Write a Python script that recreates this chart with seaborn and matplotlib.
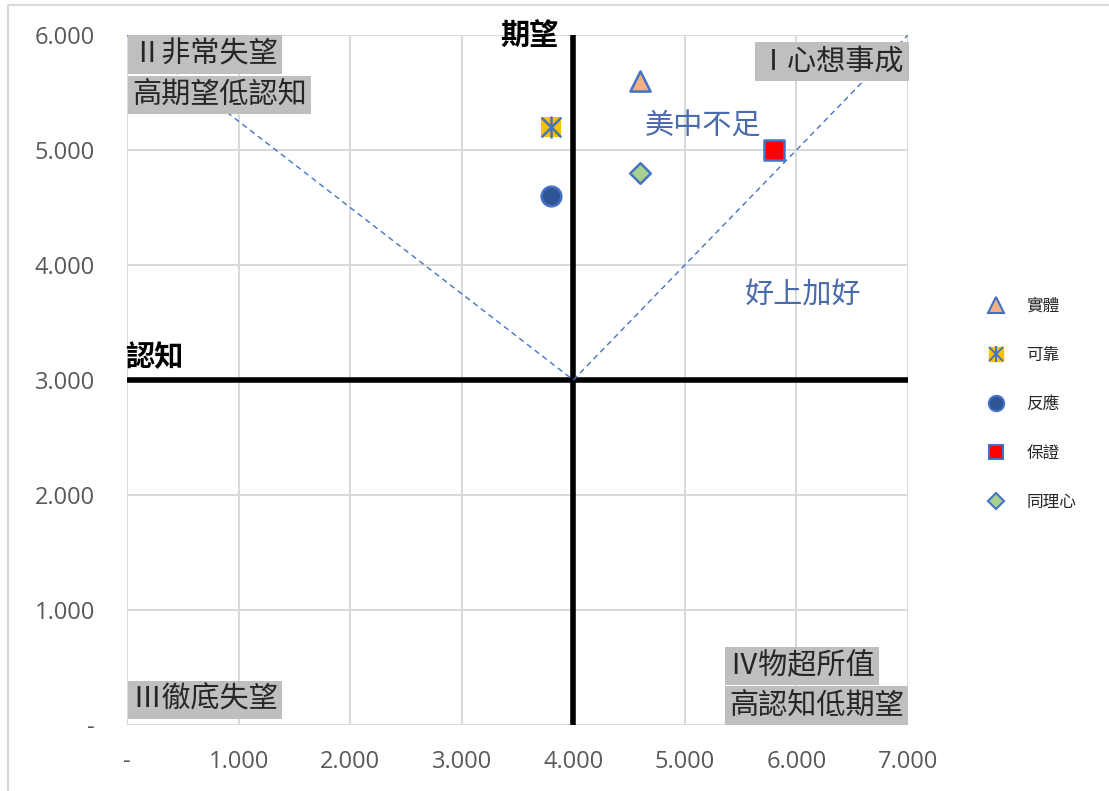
import matplotlib
matplotlib.use("Agg")
import matplotlib.pyplot as plt
from matplotlib.lines import Line2D
from matplotlib.patches import Rectangle
import seaborn as sns
import pandas as pd

# --- data -------------------------------------------------------------
dimensions = ["實體", "可靠", "反應", "保證", "同理心"]
perception = [4.6, 3.8, 3.8, 5.8, 4.6]      # 認知 (x)
expectation = [5.6, 5.2, 4.6, 5.0, 4.8]     # 期望 (y)

x_ticks = [0, 1, 2, 3, 4, 5, 6, 7]
y_ticks = [0, 1, 2, 3, 4, 5, 6]
x_mid, y_mid = 4, 3

# diagonal guide lines from the centre to the upper corners
guide_left_x, guide_left_y = [0, 4], [6, 3]
guide_right_x, guide_right_y = [4, 7], [3, 6]

# --- styling ----------------------------------------------------------
EDGE = "#4472c4"
marker_style = {
    "實體": dict(marker="^", face="#f4b183", size=210),
    "可靠": dict(marker="s", face="#ffc000", size=200),
    "反應": dict(marker="o", face="#2f5597", size=200),
    "保證": dict(marker="s", face="#ff0000", size=200),
    "同理心": dict(marker="D", face="#a9d18e", size=110),
}

sns.set_theme(style="white")
plt.rcParams["font.family"] = ["Noto Sans CJK TC", "DejaVu Sans"]

fig = plt.figure(figsize=(11.09, 7.91), dpi=100)
ax = fig.add_axes([127 / 1109, 1 - 725 / 791, (908 - 127) / 1109, (725 - 35) / 791])

df = pd.DataFrame({"維度": dimensions, "認知": perception, "期望": expectation})

# gridlines
ax.set_xlim(0, 7)
ax.set_ylim(0, 6)
ax.set_xticks(x_ticks)
ax.set_yticks(y_ticks)
ax.grid(True, color="#d9d9d9", lw=1.4)
ax.set_axisbelow(True)
for s in ax.spines.values():
    s.set_visible(False)

# quadrant axes
ax.axvline(x_mid, color="black", lw=4, zorder=2)
ax.axhline(y_mid, color="black", lw=4, zorder=2)

# dashed guides
sns.lineplot(x=guide_left_x, y=guide_left_y, ax=ax, color=EDGE, lw=1,
             linestyle=(0, (4, 3)), zorder=3)
sns.lineplot(x=guide_right_x, y=guide_right_y, ax=ax, color=EDGE, lw=1,
             linestyle=(0, (4, 3)), zorder=3)

# points
handles = []
for name in dimensions:
    st = marker_style[name]
    sub = df[df["維度"] == name]
    if name == "可靠":
        sns.scatterplot(data=sub, x="認知", y="期望", marker="s", s=st["size"],
                        color=st["face"], edgecolor=st["face"], linewidth=0,
                        ax=ax, zorder=5, legend=False)
        sns.scatterplot(data=sub, x="認知", y="期望", marker="x", s=st["size"],
                        color=EDGE, linewidth=1.8, ax=ax, zorder=6, legend=False)
        sns.scatterplot(data=sub, x="認知", y="期望", marker="|", s=st["size"] * 1.3,
                        color=EDGE, linewidth=1.8, ax=ax, zorder=6, legend=False)
        h = (Line2D([], [], ls="", marker="s", ms=10, mfc=st["face"], mec=st["face"]),
             Line2D([], [], ls="", marker="x", ms=10, mec=EDGE, mew=1.4),
             Line2D([], [], ls="", marker="|", ms=12, mec=EDGE, mew=1.4))
    else:
        sns.scatterplot(data=sub, x="認知", y="期望", marker=st["marker"], s=st["size"],
                        color=st["face"], edgecolor=EDGE, linewidth=1.8,
                        ax=ax, zorder=5, legend=False)
        ms = {"^": 11, "o": 11, "s": 10, "D": 8}[st["marker"]]
        h = Line2D([], [], ls="", marker=st["marker"], ms=ms, mfc=st["face"],
                   mec=EDGE, mew=1.5)
    handles.append(h)

# tick labels
def fmt(v):
    return "-" if v == 0 else f"{v:.3f}"

ax.set_xticklabels([fmt(v) for v in x_ticks])
ax.set_yticklabels([fmt(v) for v in y_ticks])
ax.tick_params(axis="x", length=0, pad=18, labelsize=17, labelcolor="#595959")
ax.tick_params(axis="y", length=0, pad=23, labelsize=17, labelcolor="#595959")
for lab in ax.get_xticklabels() + ax.get_yticklabels():
    lab.set_fontfamily(["Open Sans", "DejaVu Sans"])
ax.set_xlabel("")
ax.set_ylabel("")

# quadrant captions
box = dict(facecolor="#bfbfbf", edgecolor="none", pad=3)
cap = dict(fontsize=21, color="#262626", zorder=8, clip_on=False)
ax.text(0.05, 5.83, "Ⅱ非常失望", ha="left", va="center", bbox=box, **cap)
ax.text(0.05, 5.48, "高期望低認知", ha="left", va="center", bbox=box, **cap)
ax.text(6.97, 5.77, "Ⅰ心想事成", ha="right", va="center", bbox=box, **cap)
ax.text(0.05, 0.22, "Ⅲ徹底失望", ha="left", va="center", bbox=box, **cap)
ax.text(5.4, 0.51, "Ⅳ物超所值", ha="left", va="center", bbox=box, **cap)
ax.text(5.4, 0.17, "高認知低期望", ha="left", va="center", bbox=box, **cap)

ax.text(4.64, 5.2, "美中不足", ha="left", va="center", fontsize=21,
        color="#4a6bab", zorder=8)
ax.text(5.54, 3.74, "好上加好", ha="left", va="center", fontsize=21,
        color="#4a6bab", zorder=8)

# axis names
ax.text(3.87, 5.99, "期望", ha="right", va="center", fontsize=21,
        fontweight="bold", color="black", zorder=8, clip_on=False)
ax.text(-0.02, 3.2, "認知", ha="left", va="center", fontsize=21,
        fontweight="bold", color="black", zorder=8, clip_on=False)

# legend
fig.legend(handles, dimensions, loc="upper left",
           bbox_to_anchor=(968 / 1109, 1 - 283 / 791), frameon=False,
           fontsize=12, labelspacing=1.92, handletextpad=1.0,
           handlelength=1.6)

# chart frame
fig.patches.append(Rectangle((8 / 1109, -0.1), 1.2, 1 - 5 / 791 + 0.1,
                             transform=fig.transFigure, fill=False,
                             edgecolor="#d9d9d9", lw=1.5))

fig.savefig("out.png", dpi=100)
